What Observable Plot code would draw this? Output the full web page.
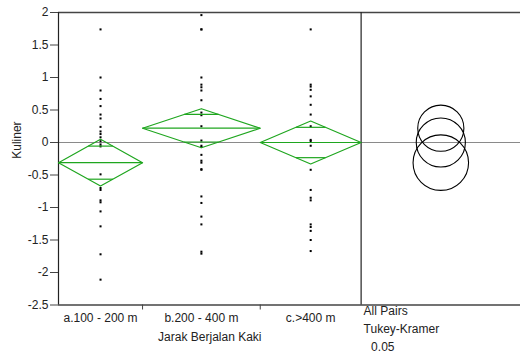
<!DOCTYPE html>
<html><head><meta charset="utf-8">
<script src="https://cdn.jsdelivr.net/npm/d3@7"></script>
<script src="https://cdn.jsdelivr.net/npm/@observablehq/plot@0.6"></script>
<style>body{margin:0;background:#fff}</style>
</head><body><div id="chart"></div>
<script>
const categories = ["a.100 - 200 m", "b.200 - 400 m", "c.>400 m"];
const groupSizes = [25, 35, 30];
const means = [-0.31, 0.22, 0.0];
const ci95 = [0.36, 0.30, 0.33];
const circleRadii = [0.427, 0.355, 0.378];
const valuesA = [1.74, 1.0, 0.8, 0.67, 0.56, 0.43, 0.37, 0.24, 0.17, 0.13, 0.08, 0.02, -0.03, -0.06, -0.49, -0.70, -0.73, -0.89, -0.92, -1.06, -1.29, -1.72, -2.11];
const valuesB = [1.96, 1.74, 1.74, 1.0, 0.89, 0.85, 0.80, 0.65, 0.46, 0.42, 0.25, 0.03, -0.05, -0.07, -0.19, -0.28, -0.31, -0.41, -0.42, -0.83, -0.93, -1.14, -1.26, -1.68, -1.71];
const valuesC = [1.74, 0.89, 0.86, 0.81, 0.71, 0.58, 0.43, 0.25, 0.04, 0.02, -0.05, -0.42, -0.73, -0.85, -0.89, -1.26, -1.30, -1.36, -1.50, -1.67];
const yTicks = [-2.5, -2, -1.5, -1, -0.5, 0, 0.5, 1, 1.5, 2];
const xTitle = "Jarak Berjalan Kaki";
const yTitle = "Kuliner";
const compLabels = ["All Pairs", "Tukey-Kramer", "0.05"];

const green = "#1fa61f";
const total = d3.sum(groupSizes);
const compWidth = 47.4;
const bounds = [0, ...d3.cumsum(groupSizes)];
const centers = groupSizes.map((n, i) => bounds[i] + n / 2);
const groups = [valuesA, valuesB, valuesC];

const points = groups.flatMap((vals, i) => vals.map(v => ({x: centers[i], y: v})));
const diamond = means.flatMap((m, i) => [
  {g: i, x: bounds[i], y: m},
  {g: i, x: centers[i], y: m + ci95[i]},
  {g: i, x: bounds[i + 1], y: m},
  {g: i, x: centers[i], y: m - ci95[i]},
  {g: i, x: bounds[i], y: m}
]);
const f = 1 - 1 / Math.SQRT2;
const overlap = means.flatMap((m, i) => [1, -1].map(s => ({
  x1: centers[i] - groupSizes[i] / 2 * f,
  x2: centers[i] + groupSizes[i] / 2 * f,
  y: m + s * ci95[i] / Math.SQRT2
})));
const meanLines = means.map((m, i) => ({x1: bounds[i], x2: bounds[i + 1], y: m}));
const circles = means.map((m, i) => ({x: total + compWidth / 2, y: m, r: circleRadii[i]}));

const H = 357, mt = 12, mb = 52.5;
const plotH = H - mt - mb;

const chart = Plot.plot({
  width: 520, height: H,
  marginLeft: 58, marginRight: 0, marginTop: mt, marginBottom: mb,
  style: {fontFamily: "'Liberation Sans', Arial, sans-serif", fontSize: "12px", background: "#fff", color: "#222"},
  x: {domain: [0, total + compWidth]},
  y: {domain: [-2.5, 2]},
  r: {type: "linear", domain: [0, 4.5], range: [0, plotH]},
  marks: [
    Plot.ruleY([0], {stroke: "#8a8a8a", strokeWidth: 1}),
    Plot.ruleY([2], {stroke: "#444", strokeWidth: 1.5}),
    Plot.ruleY([-2.5], {stroke: "#444", strokeWidth: 1.5}),
    Plot.ruleX([0], {stroke: "#222", strokeWidth: 1.2}),
    Plot.ruleX([total], {stroke: "#222", strokeWidth: 1.2}),
    Plot.axisY({ticks: yTicks, tickSize: 8, tickPadding: 2, tickFormat: d => String(d), label: null, fontSize: 12, stroke: "#444"}),
    Plot.axisX({ticks: bounds.slice(1, 3), tickSize: 5, tickFormat: () => "", label: null, stroke: "#444"}),
    Plot.dot(points, {x: "x", y: "y", symbol: "square", r: 1.15, fill: "#000", stroke: null}),
    Plot.line(diamond, {x: "x", y: "y", z: "g", stroke: green, strokeWidth: 1.2}),
    Plot.link(meanLines, {x1: "x1", x2: "x2", y1: "y", y2: "y", stroke: green, strokeWidth: 1.2}),
    Plot.link(overlap, {x1: "x1", x2: "x2", y1: "y", y2: "y", stroke: green, strokeWidth: 1.2}),
    Plot.dot(circles, {x: "x", y: "y", r: "r", stroke: "#000", fill: "none", strokeWidth: 1.1}),
    Plot.text(categories, {x: centers, frameAnchor: "bottom", dy: 16.5, fontSize: 12, fill: "#222"}),
    Plot.text([xTitle], {x: [total / 2], frameAnchor: "bottom", dy: 36, fontSize: 12, fill: "#222"}),
    Plot.text([yTitle], {frameAnchor: "left", dx: -41, rotate: -90, fontSize: 12, fill: "#222"}),
    Plot.text([compLabels[0]], {x: [total], frameAnchor: "bottom", dy: 10, dx: 2.5, textAnchor: "start", fontSize: 12, fill: "#222"}),
    Plot.text([compLabels[1]], {x: [total], frameAnchor: "bottom", dy: 27.5, dx: 2.5, textAnchor: "start", fontSize: 12, fill: "#222"}),
    Plot.text([compLabels[2]], {x: [total], frameAnchor: "bottom", dy: 45.5, dx: 10, textAnchor: "start", fontSize: 12, fill: "#222"})
  ]
});
document.getElementById("chart").appendChild(chart);
</script>
</body></html>
